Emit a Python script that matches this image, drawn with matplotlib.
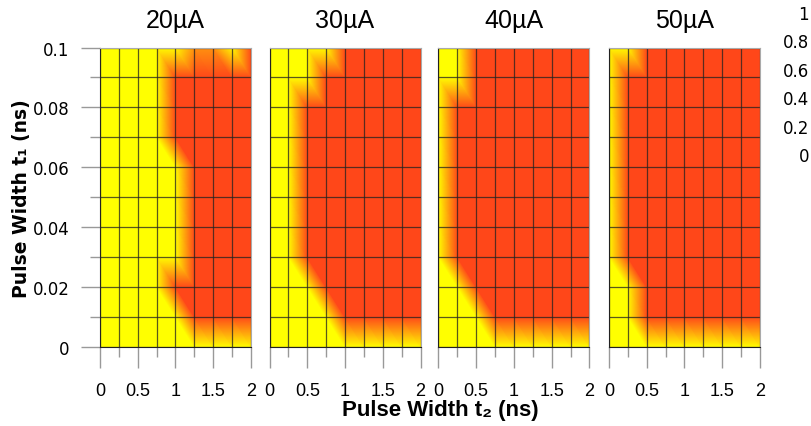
import numpy as np
import matplotlib
matplotlib.use("Agg")
import matplotlib.pyplot as plt
import matplotlib.tri as mtri
from matplotlib.colors import LinearSegmentedColormap

# grid nodes
t2 = [0, 0.25, 0.5, 0.75, 1.0, 1.25, 1.5, 1.75, 2.0]
t1 = [0, 0.01, 0.02, 0.03, 0.04, 0.05, 0.06, 0.07, 0.08, 0.09, 0.1]

currents = ['20µA', '30µA', '40µA', '50µA']

# switching result at each node, rows go from t1 = 0 up to t1 = 0.1
z20 = [
    [0, 0, 0, 0, 0, 0, 0, 0, 0],
    [0, 0, 0, 0, 0, 1, 1, 1, 1],
    [0, 0, 0, 0, 1, 1, 1, 1, 1],
    [0, 0, 0, 0, 0, 1, 1, 1, 1],
    [0, 0, 0, 0, 0, 1, 1, 1, 1],
    [0, 0, 0, 0, 0, 1, 1, 1, 1],
    [0, 0, 0, 0, 0, 1, 1, 1, 1],
    [0, 0, 0, 0, 1, 1, 1, 1, 1],
    [0, 0, 0, 0, 1, 1, 1, 1, 1],
    [0, 0, 0, 0, 1, 1, 1, 1, 1],
    [0, 0, 0, 0, 0, 0.6, 0.6, 0, 1],
]
z30 = [
    [0, 0, 0, 0, 0, 0, 0, 0, 0],
    [0, 0, 0, 0, 1, 1, 1, 1, 1],
    [0, 0, 0, 1, 1, 1, 1, 1, 1],
    [0, 0, 1, 1, 1, 1, 1, 1, 1],
    [0, 0, 1, 1, 1, 1, 1, 1, 1],
    [0, 0, 1, 1, 1, 1, 1, 1, 1],
    [0, 0, 1, 1, 1, 1, 1, 1, 1],
    [0, 0, 1, 1, 1, 1, 1, 1, 1],
    [0, 0, 1, 1, 1, 1, 1, 1, 1],
    [0, 0, 0, 1, 1, 1, 1, 1, 1],
    [0, 0, 0, 0, 1, 1, 1, 1, 1],
]
z40 = [
    [0, 0, 0, 0, 0, 0, 0, 0, 0],
    [0, 0, 0, 1, 1, 1, 1, 1, 1],
    [0, 0, 1, 1, 1, 1, 1, 1, 1],
    [0, 1, 1, 1, 1, 1, 1, 1, 1],
    [0, 1, 1, 1, 1, 1, 1, 1, 1],
    [0, 1, 1, 1, 1, 1, 1, 1, 1],
    [0, 1, 1, 1, 1, 1, 1, 1, 1],
    [0, 1, 1, 1, 1, 1, 1, 1, 1],
    [0, 1, 1, 1, 1, 1, 1, 1, 1],
    [0, 0, 1, 1, 1, 1, 1, 1, 1],
    [0, 0, 1, 1, 1, 1, 1, 1, 1],
]
z50 = [
    [0, 0, 0, 0, 0, 0, 0, 0, 0],
    [0, 0, 1, 1, 1, 1, 1, 1, 1],
    [0, 0, 1, 1, 1, 1, 1, 1, 1],
    [0, 1, 1, 1, 1, 1, 1, 1, 1],
    [0, 1, 1, 1, 1, 1, 1, 1, 1],
    [0, 1, 1, 1, 1, 1, 1, 1, 1],
    [0, 1, 1, 1, 1, 1, 1, 1, 1],
    [0, 1, 1, 1, 1, 1, 1, 1, 1],
    [0, 1, 1, 1, 1, 1, 1, 1, 1],
    [0, 1, 1, 1, 1, 1, 1, 1, 1],
    [0, 0, 1, 1, 1, 1, 1, 1, 1],
]

cbar_ticks = [0, 0.2, 0.4, 0.6, 0.8, 1]


def make_triangulation(xs, ys):
    X, Y = np.meshgrid(xs, ys)
    nx = len(xs)
    tris = []
    for i in range(len(ys) - 1):
        for j in range(nx - 1):
            bl = i * nx + j
            br = bl + 1
            tl = bl + nx
            tr = tl + 1
            tris.append([bl, br, tl])
            tris.append([br, tr, tl])
    return mtri.Triangulation(X.ravel(), Y.ravel(), tris)


def main():
    cmap = LinearSegmentedColormap.from_list('yr', ['#ffff00', '#ff4719'])
    tri = make_triangulation(t2, t1)

    fig = plt.figure(figsize=(8.12, 4.27), dpi=100)
    W, H = 812.0, 427.0
    lefts = [100, 269.5, 438.5, 609]
    top, bottom = 48.5, 348

    for k, z in enumerate([z20, z30, z40, z50]):
        ax = fig.add_axes([lefts[k] / W, 1 - bottom / H, 151 / W, (bottom - top) / H])
        tpc = ax.tripcolor(tri, np.array(z, dtype=float).ravel(), shading='gouraud',
                           cmap=cmap, vmin=0, vmax=1)
        for x in t2:
            ax.axvline(x, color='#222222', lw=0.9, alpha=0.75)
        for y in t1:
            ax.axhline(y, color='#222222', lw=0.9, alpha=0.75)
        ax.set_xlim(0, 2)
        ax.set_ylim(0, 0.1)

        ax.set_xticks([0, 0.5, 1, 1.5, 2])
        ax.set_xticklabels(['0', '0.5', '1', '1.5', '2'], family='Liberation Sans', fontsize=13)
        ax.set_xticks([0.25, 0.75, 1.25, 1.75], minor=True)
        ax.tick_params(axis='x', which='major', length=15, width=1, color='#999999', pad=10)
        ax.tick_params(axis='x', which='minor', length=7, width=1, color='#999999')

        if k == 0:
            ax.set_yticks([0, 0.02, 0.04, 0.06, 0.08, 0.1])
            ax.set_yticklabels(['0', '0.02', '0.04', '0.06', '0.08', '0.1'], fontsize=12)
            ax.set_yticks([0.01, 0.03, 0.05, 0.07, 0.09], minor=True)
            ax.tick_params(axis='y', which='major', length=14, width=1, color='#999999', pad=8)
            ax.tick_params(axis='y', which='minor', length=7, width=1, color='#999999')
            ax.set_ylabel('Pulse Width t₁ (ns)', fontsize=13.5, fontweight='bold', labelpad=1)
        else:
            ax.set_yticks([])

        for side in ['left', 'bottom']:
            ax.spines[side].set_color('#222222')
        for side in ['top', 'right']:
            ax.spines[side].set_color('#aaaaaa')

        ax.set_title(currents[k], family='Liberation Sans', fontsize=18, pad=15)

    fig.text(440 / W, 1 - 411 / H, 'Pulse Width t₂ (ns)', ha='center', va='center',
             family=['Liberation Sans', 'DejaVu Sans'], fontsize=16, fontweight='bold')

    # colorbar sits just past the right edge, only its labels show
    cax = fig.add_axes([1.0, 1 - 155 / H, 0.02, 142 / H])
    cb = fig.colorbar(tpc, cax=cax, ticks=cbar_ticks)
    cb.ax.set_yticklabels(['0', '0.2', '0.4', '0.6', '0.8', '1'])
    cb.ax.yaxis.set_ticks_position('left')
    cb.ax.tick_params(length=0, pad=2, labelsize=12)

    fig.savefig('out.png', dpi=100)


if __name__ == "__main__":
    main()
